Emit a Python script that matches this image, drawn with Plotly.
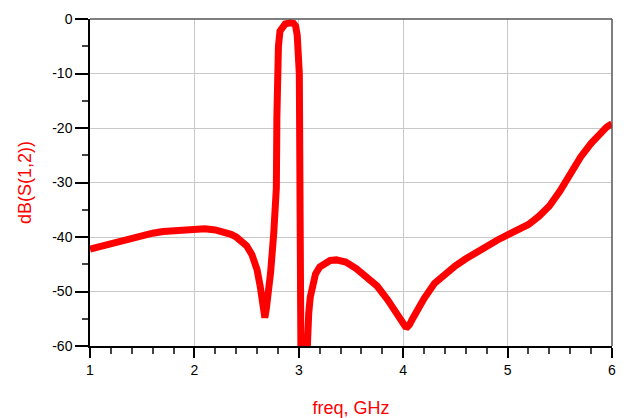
import plotly.graph_objects as go

freq = [1.00, 1.10, 1.20, 1.30, 1.40, 1.50, 1.60, 1.70, 1.80, 1.90, 2.00, 2.10, 2.20, 2.30,
        2.35, 2.40, 2.45, 2.50, 2.55, 2.60, 2.63, 2.65, 2.665, 2.675, 2.69, 2.71, 2.73, 2.76,
        2.785, 2.79, 2.795, 2.805, 2.82, 2.845, 2.87, 2.92, 2.95, 2.97, 2.985, 3.005, 3.015,
        3.02, 3.05, 3.075, 3.085, 3.095, 3.11, 3.13, 3.16, 3.20, 3.25, 3.30, 3.36, 3.45,
        3.55, 3.65, 3.75, 3.85, 3.93, 3.98, 4.02, 4.04, 4.06, 4.09, 4.13, 4.20, 4.30, 4.40,
        4.50, 4.60, 4.70, 4.80, 4.90, 5.00, 5.10, 5.20, 5.30, 5.40, 5.50, 5.60, 5.70, 5.80,
        5.90, 5.95, 6.00]
s12_db = [-42.2, -41.7, -41.1, -40.6, -40.1, -39.7, -39.3, -39.0, -38.8, -38.6, -38.5, -38.5,
          -38.7, -39.1, -39.5, -40.0, -40.7, -41.6, -43.2, -46.0, -49.0, -52.0, -54.5, -54.8,
          -53.0, -50.0, -46.5, -39.3, -31.0, -18.0, -10.0, -5.0, -2.2, -1.2, -0.9, -0.7, -0.8,
          -1.3, -3.0, -10.0, -40.0, -60.5, -75.0, -61.0, -57.5, -54.0, -51.0, -48.6, -46.8,
          -45.5, -44.7, -44.3, -44.2, -44.6, -45.8, -47.3, -49.0, -51.5, -53.8, -55.5, -56.4,
          -56.5, -56.1, -55.0, -53.6, -51.3, -48.5, -46.7, -45.3, -44.0, -42.8, -41.6, -40.6,
          -39.6, -38.7, -37.7, -36.2, -34.3, -31.6, -28.4, -25.3, -22.8, -20.6, -19.8, -19.2]

x_ticks = [1, 2, 3, 4, 5, 6]
y_ticks = [0, -10, -20, -30, -40, -50, -60]

fig = go.Figure()
fig.add_trace(go.Scatter(x=freq, y=s12_db, mode="lines",
                         line=dict(color="#ff0000", width=7), showlegend=False))

tickfont = dict(family="Liberation Sans, Arial, sans-serif", size=14, color="black")
titlefont = dict(family="Liberation Sans, Arial, sans-serif", size=18, color="#ff0000")

fig.update_layout(
    width=624, height=410,
    margin=dict(l=82, r=20, t=11, b=72),
    paper_bgcolor="white", plot_bgcolor="white",
    xaxis=dict(range=[1, 6], tickvals=x_ticks, ticktext=[str(v) for v in x_ticks],
               automargin=False,
               showgrid=True, gridcolor="#c8c8c8", gridwidth=1,
               showline=True, linecolor="black", linewidth=1.5,
               ticks="outside", ticklen=10, tickwidth=1.5, tickcolor="black",
               tickfont=tickfont, zeroline=False,
               minor=dict(dtick=0.2, ticks="outside", ticklen=6, tickwidth=1.5,
                          tickcolor="#444", showgrid=False),
               title=dict(text="freq, GHz", font=titlefont, standoff=25)),
    yaxis=dict(range=[-60, 0], tickvals=y_ticks, ticktext=[str(v) for v in y_ticks],
               automargin=False,
               showgrid=True, gridcolor="#c8c8c8", gridwidth=1,
               showline=True, linecolor="black", linewidth=1.5,
               ticks="outside", ticklen=13, tickwidth=1.5, tickcolor="black",
               tickfont=tickfont, zeroline=False,
               minor=dict(dtick=5, ticks="outside", ticklen=6, tickwidth=1.5,
                          tickcolor="#444", showgrid=False),
               title=dict(text="dB(S(1,2))", font=titlefont, standoff=16)),
    shapes=[
        dict(type="line", xref="x domain", yref="y domain", x0=0, x1=1, y0=1, y1=1,
             line=dict(color="#555555", width=1.5), layer="above"),
        dict(type="line", xref="x domain", yref="y domain", x0=1, x1=1, y0=0, y1=1,
             line=dict(color="#555555", width=1.5), layer="above"),
    ],
)

fig.write_html("out.html")
